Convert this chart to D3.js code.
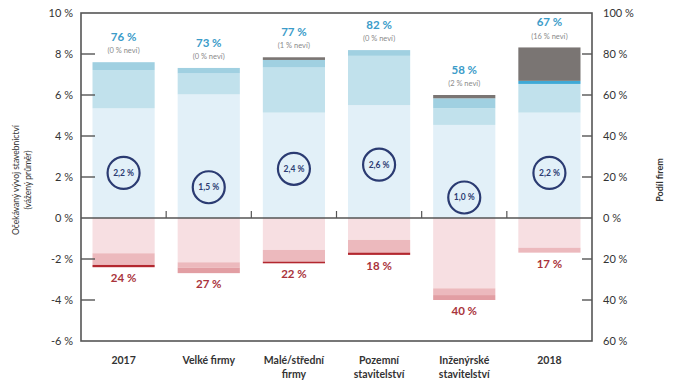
<!DOCTYPE html>
<html>
<head>
<meta charset="utf-8">
<script src="https://cdn.jsdelivr.net/npm/d3@7"></script>
<style>
  body { margin: 0; background: #fff; }
  svg { display: block; font-family: Lato, "Open Sans", sans-serif; }
</style>
</head>
<body>
<svg id="chart" width="674" height="380"></svg>
<script>
// categories (split into label lines)
var categories = ["2017", "Velké firmy", "Malé/střední firmy", "Pozemní stavitelství", "Inženýrské stavitelství", "2018"];
var labelLines = [["2017"], ["Velké firmy"], ["Malé/střední", "firmy"], ["Pozemní", "stavitelství"], ["Inženýrské", "stavitelství"], ["2018"]];

// share of firms expecting growth (stacked, %)
var posLight  = [53.5, 60.3, 51.4, 55.1, 45.4, 51.4];
var posMid    = [18.7, 10.2, 22.0, 24.0, 8.1, 14.0];
var posDark   = [3.8, 2.7, 3.7, 2.8, 4.9, 0];
var posStrong = [0, 0, 0, 0, 0, 1.5];
var posNevi   = [0, 0, 1.3, 0, 1.6, 16.3];

// share of firms expecting decline (stacked, %)
var negLight = [17.2, 21.6, 15.6, 10.7, 34.3, 14.5];
var negMid   = [5.7, 2.6, 5.7, 6.2, 3.3, 2.4];
var negDark  = [0, 2.7, 0, 0, 2.4, 0];
var negRed   = [1.1, 0, 0.8, 1.1, 0, 0];

var upLabel   = [76, 73, 77, 82, 58, 67];
var neviLabel = [0, 0, 1, 0, 2, 16];
var downLabel = [24, 27, 22, 18, 40, 17];

// expected construction growth (weighted average, %)
var growth = [2.2, 1.5, 2.4, 2.6, 1.0, 2.2];

var leftTicks  = [10, 8, 6, 4, 2, 0, -2, -4, -6];
var rightTicks = [100, 80, 60, 40, 20, 0, -20, -40, -60];

var svg = d3.select("#chart");
var L = 81, R = 592, T = 13, B = 341;

var x = d3.scaleBand().domain(categories).range([L, R]).paddingInner(0.27).paddingOuter(0.135);
var y = d3.scaleLinear().domain([-6, 10]).range([B, T]);
var ys = d3.scaleLinear().domain([-60, 100]).range([B, T]);

var fmt = function(v) { return String(v).replace(".", ","); };

// stacked bars
var posSeries = [
	{vals: posLight, color: "#e2f0f8"},
	{vals: posMid, color: "#c1e1ec"},
	{vals: posDark, color: "#a0d0e1"},
	{vals: posStrong, color: "#3fa9d6"},
	{vals: posNevi, color: "#7a7573"}
];
var negSeries = [
	{vals: negLight, color: "#f7dfe2"},
	{vals: negMid, color: "#ecb9bd"},
	{vals: negDark, color: "#e29ea3"},
	{vals: negRed, color: "#b3272f"}
];

var bars = svg.append("g");
categories.forEach(function(c, i) {
	var acc = 0;
	posSeries.forEach(function(s) {
		var v = s.vals[i];
		if (v > 0) {
			bars.append("rect")
				.attr("x", x(c)).attr("width", x.bandwidth())
				.attr("y", ys(acc + v)).attr("height", ys(acc) - ys(acc + v))
				.attr("fill", s.color);
		}
		acc += v;
	});
	acc = 0;
	negSeries.forEach(function(s) {
		var v = s.vals[i];
		if (v > 0) {
			bars.append("rect")
				.attr("x", x(c)).attr("width", x.bandwidth())
				.attr("y", ys(-acc)).attr("height", ys(-acc - v) - ys(-acc))
				.attr("fill", s.color);
		}
		acc += v;
	});
});

// frame
var axisColor = "#555";
svg.append("rect")
	.attr("x", L).attr("y", T).attr("width", R - L).attr("height", B - T)
	.attr("fill", "none").attr("stroke", axisColor).attr("stroke-width", 1.6);

// zero line and category separators
svg.append("line")
	.attr("x1", L).attr("x2", R).attr("y1", y(0)).attr("y2", y(0))
	.attr("stroke", axisColor).attr("stroke-width", 1.4);
categories.slice(1).forEach(function(c) {
	var sx = x(c) - x.step() * x.paddingInner() / 2;
	svg.append("line")
		.attr("x1", sx).attr("x2", sx).attr("y1", y(0) - 7).attr("y2", y(0))
		.attr("stroke", axisColor).attr("stroke-width", 1.2);
});

// left axis
leftTicks.forEach(function(t) {
	if (t != 10 && t != -6 && t != 0) {
		svg.append("line")
			.attr("x1", L).attr("x2", L + 14).attr("y1", y(t)).attr("y2", y(t))
			.attr("stroke", axisColor).attr("stroke-width", 1.4);
	}
	svg.append("text")
		.attr("x", 73).attr("y", y(t)).attr("dy", "0.35em")
		.attr("text-anchor", "end").attr("font-size", 11).attr("fill", "#333")
		.text(t + " %");
});

// right axis
rightTicks.forEach(function(t) {
	if (t != 100 && t != -60 && t != 0) {
		svg.append("line")
			.attr("x1", R - 10).attr("x2", R).attr("y1", ys(t)).attr("y2", ys(t))
			.attr("stroke", axisColor).attr("stroke-width", 1.4);
	}
	svg.append("text")
		.attr("x", 603).attr("y", ys(t)).attr("dy", "0.35em")
		.attr("font-size", 11).attr("fill", "#333")
		.text(Math.abs(t) + " %");
});

// axis titles
svg.append("text")
	.attr("transform", "translate(19,180) rotate(-90)")
	.attr("text-anchor", "middle").attr("font-size", 8.5).attr("fill", "#333")
	.text("Očekávaný vývoj stavebnictví");
svg.append("text")
	.attr("transform", "translate(31,180) rotate(-90)")
	.attr("text-anchor", "middle").attr("font-size", 8.5).attr("fill", "#333")
	.text("(vážený průměr)");
svg.append("text")
	.attr("transform", "translate(663,180) rotate(-90)")
	.attr("text-anchor", "middle").attr("font-size", 9).attr("font-weight", "bold").attr("fill", "#333")
	.text("Podíl firem");

// labels above and below bars
categories.forEach(function(c, i) {
	var cx = x(c) + x.bandwidth() / 2;
	var top = posLight[i] + posMid[i] + posDark[i] + posStrong[i] + posNevi[i];
	svg.append("text")
		.attr("x", cx).attr("y", ys(top) - 25).attr("dy", "0.35em")
		.attr("text-anchor", "middle").attr("font-size", 11.5).attr("font-weight", "bold")
		.attr("fill", "#3b9cc9")
		.text(upLabel[i] + " %");
	svg.append("text")
		.attr("x", cx).attr("y", ys(top) - 11.5).attr("dy", "0.35em")
		.attr("text-anchor", "middle").attr("font-size", 7.5).attr("fill", "#8a8a8a")
		.text("(" + neviLabel[i] + " % neví)");

	var bottom = negLight[i] + negMid[i] + negDark[i] + negRed[i];
	svg.append("text")
		.attr("x", cx).attr("y", ys(-bottom) + 11).attr("dy", "0.35em")
		.attr("text-anchor", "middle").attr("font-size", 11.5).attr("font-weight", "bold")
		.attr("fill", "#a9333b")
		.text(downLabel[i] + " %");

	// growth circle
	svg.append("circle")
		.attr("cx", cx).attr("cy", y(growth[i])).attr("r", 16)
		.attr("fill", "none").attr("stroke", "#2b3b72").attr("stroke-width", 2.2);
	svg.append("text")
		.attr("x", cx).attr("y", y(growth[i])).attr("dy", "0.35em")
		.attr("text-anchor", "middle").attr("font-size", 8.5).attr("font-weight", "bold")
		.attr("fill", "#2b3b72")
		.text(fmt(growth[i].toFixed(1)) + " %");

	// category label
	labelLines[i].forEach(function(line, j) {
		svg.append("text")
			.attr("x", cx).attr("y", 360 + j * 14).attr("dy", "0.35em")
			.attr("text-anchor", "middle").attr("font-size", 10.5).attr("font-weight", "bold")
			.attr("fill", "#333")
			.text(line);
	});
});
</script>
</body>
</html>
